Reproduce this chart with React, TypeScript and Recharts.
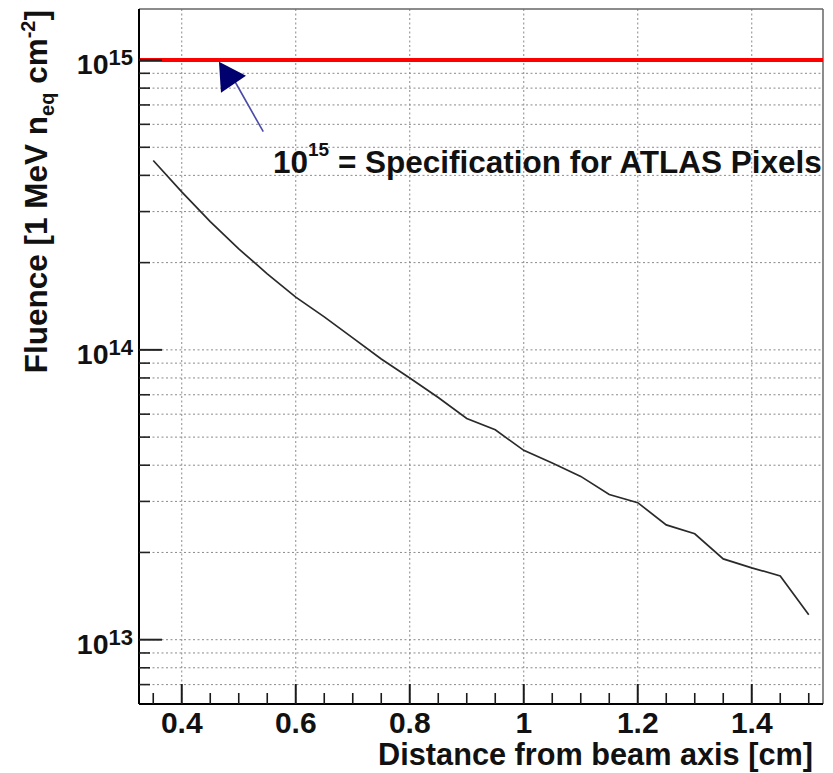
import React from 'react';
import { LineChart, Line, XAxis, YAxis, ReferenceLine, ReferenceDot } from 'recharts';

// ---- data ----
const DISTANCE_CM = [0.35, 0.4, 0.45, 0.5, 0.55, 0.6, 0.65, 0.7, 0.75, 0.8, 0.85, 0.9, 0.95, 1.0, 1.05, 1.1, 1.15, 1.2, 1.25, 1.3, 1.35, 1.4, 1.45, 1.5];
const FLUENCE = [4.5e14, 3.51e14, 2.77e14, 2.23e14, 1.83e14, 1.52e14, 1.3e14, 1.1e14, 9.3e13, 8.0e13, 6.85e13, 5.8e13, 5.3e13, 4.5e13, 4.07e13, 3.66e13, 3.17e13, 2.97e13, 2.49e13, 2.32e13, 1.9e13, 1.77e13, 1.66e13, 1.22e13];

const X_TICKS = [0.35, 0.4, 0.45, 0.5, 0.55, 0.6, 0.65, 0.7, 0.75, 0.8, 0.85, 0.9, 0.95, 1.0, 1.05, 1.1, 1.15, 1.2, 1.25, 1.3, 1.35, 1.4, 1.45, 1.5];
const X_MAJOR = [0.4, 0.6, 0.8, 1.0, 1.2, 1.4];
const X_MAJOR_LABELS = ['0.4', '0.6', '0.8', '1', '1.2', '1.4'];
const X_DOMAIN = [0.325, 1.525];

const Y_TICKS = [
  7e12, 8e12, 9e12,
  1e13, 2e13, 3e13, 4e13, 5e13, 6e13, 7e13, 8e13, 9e13,
  1e14, 2e14, 3e14, 4e14, 5e14, 6e14, 7e14, 8e14, 9e14,
  1e15,
];
const Y_DOMAIN = [6e12, 1.5e15];

const SPEC_LIMIT = 1e15;
const ARROW_TAIL = { x: 0.543, y: 5.66e14 };
const ARROW_END = { x: 0.4846, y: 9.04e14 };
const ARROW_HEAD = { x: 0.4653, y: 9.87e14 };
const NOTE_POS = { x: 0.56, y: 4.06e14 };

const X_TITLE = 'Distance from beam axis [cm]';

const FONT = '"Liberation Sans", Arial, Helvetica, sans-serif';

const chartData = DISTANCE_CM.map((d, i) => ({ dist: d, fluence: FLUENCE[i] }));

const XTick = (props: any) => {
  const { x, y, payload } = props;
  const v = payload.value;
  const idx = X_MAJOR.findIndex((m) => Math.abs(m - v) < 1e-6);
  const major = idx >= 0;
  return (
    <g>
      <line x1={x} x2={x} y1={y} y2={y - (major ? 20 : 11)} stroke="#1a1a1a" strokeWidth={major ? 2 : 1.6} />
      {major && (
        <text x={x} y={y + 29} textAnchor="middle" fontFamily={FONT} fontWeight={700} fontSize={30} fill="#111">
          {X_MAJOR_LABELS[idx]}
        </text>
      )}
    </g>
  );
};

const YTick = (props: any) => {
  const { x, y, payload } = props;
  const v = payload.value;
  const e = Math.log10(v);
  const exp = Math.round(e);
  const major = Math.abs(e - exp) < 1e-9;
  return (
    <g>
      <line x1={x} x2={x + (major ? 23 : 11)} y1={y} y2={y} stroke="#222" strokeWidth={major ? 2 : 1.6} />
      {major && (
        <text x={x - 6} y={y + 14} textAnchor="end" fontFamily={FONT} fontWeight={700} fontSize={28.5} fill="#111">
          10
          <tspan fontSize={22} dy={-9}>{exp}</tspan>
        </text>
      )}
    </g>
  );
};

const YTitle = (props: any) => {
  const vb = props.viewBox || { x: 0, y: 9 };
  const bx = vb.x + 47;
  const by = vb.y + 1;
  return (
    <text
      x={bx}
      y={by}
      transform={`rotate(-90, ${bx}, ${by})`}
      textAnchor="end"
      fontFamily={FONT}
      fontWeight={700}
      fontSize={31.5}
      fill="#111"
    >
      Fluence [1 MeV n
      <tspan fontSize={20} dy={7}>eq</tspan>
      <tspan dy={-7}> cm</tspan>
      <tspan fontSize={20} dy={-12}>-2</tspan>
      <tspan dy={12}>]</tspan>
    </text>
  );
};

const XTitle = (props: any) => {
  const vb = props.viewBox || { x: 139, y: 704, width: 684 };
  return (
    <text
      x={vb.x + vb.width - 10}
      y={vb.y + 61}
      textAnchor="end"
      fontFamily={FONT}
      fontWeight={700}
      fontSize={30.7}
      fill="#111"
    >
      {X_TITLE}
    </text>
  );
};

const ArrowHead = (props: any) => {
  const { cx, cy } = props;
  if (cx == null || cy == null) return null;
  return <polygon points={`${cx},${cy} ${cx + 27},${cy + 14} ${cx + 2},${cy + 31}`} fill="#00006e" />;
};

const Note = (props: any) => {
  const { cx, cy } = props;
  if (cx == null || cy == null) return null;
  return (
    <text x={cx} y={cy} fontFamily={FONT} fontWeight={700} fontSize={31.5} fill="#111">
      10
      <tspan fontSize={19} dy={-17}>15</tspan>
      <tspan dy={17}> = Specification for ATLAS Pixels</tspan>
    </text>
  );
};

export default function App() {
  return (
    <div style={{ position: 'absolute', left: 0, top: 0, width: 833, height: 773, background: '#fff' }}>
      <LineChart
        width={833}
        height={773}
        data={chartData}
        margin={{ top: 9, right: 10, bottom: 0, left: 0 }}
      >
        {X_MAJOR.map((v) => (
          <ReferenceLine key={`vx${v}`} x={v} stroke="#8a8a8a" strokeWidth={1} strokeDasharray="2 2.5" />
        ))}
        {Y_TICKS.map((v) => (
          <ReferenceLine key={`hy${v}`} y={v} stroke="#8a8a8a" strokeWidth={1} strokeDasharray="2 2.5" />
        ))}
        <ReferenceLine y={Y_DOMAIN[1]} stroke="#666" strokeWidth={1.5} />
        <ReferenceLine x={X_DOMAIN[1]} stroke="#666" strokeWidth={1.5} />
        <XAxis
          dataKey="dist"
          type="number"
          domain={X_DOMAIN}
          ticks={X_TICKS}
          interval={0}
          height={69}
          tickSize={0}
          tickMargin={0}
          tickLine={false}
          axisLine={{ stroke: '#000', strokeWidth: 2 }}
          tick={<XTick />}
          allowDataOverflow
          label={{ content: <XTitle /> }}
        />
        <YAxis
          type="number"
          scale="log"
          domain={Y_DOMAIN}
          ticks={Y_TICKS}
          interval={0}
          width={139}
          tickSize={0}
          tickMargin={0}
          tickLine={false}
          axisLine={{ stroke: '#000', strokeWidth: 2 }}
          tick={<YTick />}
          allowDataOverflow
          label={{ content: <YTitle /> }}
        />
        <Line
          type="linear"
          dataKey="fluence"
          stroke="#2a2a2a"
          strokeWidth={1.7}
          dot={false}
          isAnimationActive={false}
        />
        <ReferenceLine y={SPEC_LIMIT} stroke="#ff0000" strokeWidth={4} />
        <ReferenceLine
          segment={[ARROW_TAIL, ARROW_END]}
          stroke="#4a4aa8"
          strokeWidth={1.6}
        />
        <ReferenceDot x={ARROW_HEAD.x} y={ARROW_HEAD.y} r={0} shape={<ArrowHead />} />
        <ReferenceDot x={NOTE_POS.x} y={NOTE_POS.y} r={0} shape={<Note />} />
      </LineChart>
    </div>
  );
}
